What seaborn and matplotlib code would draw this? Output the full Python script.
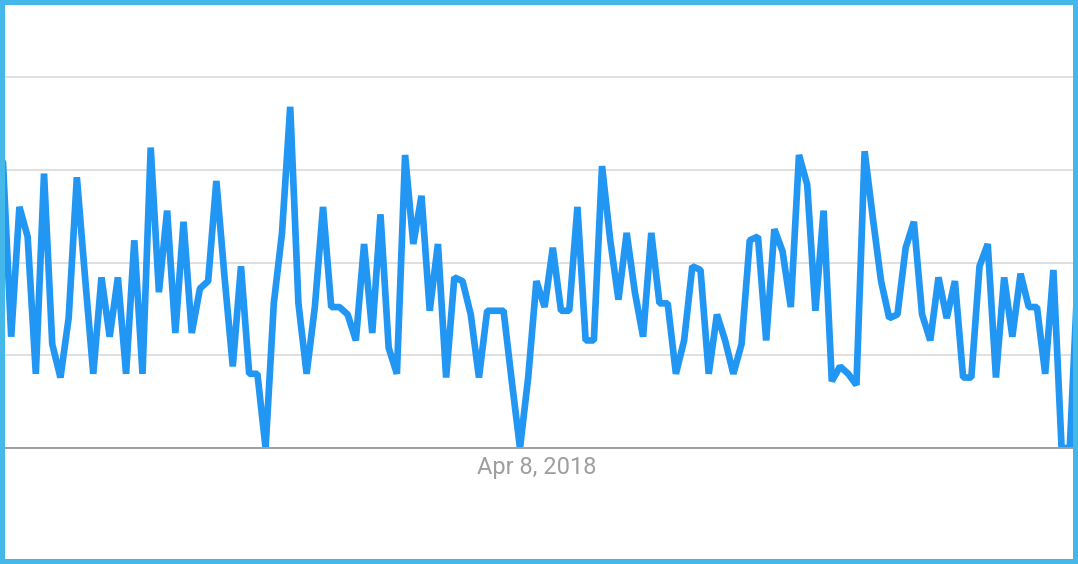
import numpy as np
import pandas as pd
import matplotlib.pyplot as plt
import seaborn as sns
from matplotlib.patches import Rectangle

# weekly interest values (0-100 scale)
interest = [77, 30, 65, 57, 20, 74, 28, 19, 35, 73,
            46, 20, 46, 30, 46, 20, 56, 20, 81, 42,
            64, 31, 61, 31, 43, 45, 72, 46, 22, 49,
            20, 20, 0, 39, 58, 92, 39, 20, 38, 65,
            38, 38, 36, 29, 55, 31, 63, 27, 20, 79,
            55, 68, 37, 55, 19, 46, 45, 36, 19, 37,
            37, 37, 18, 0, 19, 45, 38, 54, 37, 37,
            65, 29, 29, 76, 56, 40, 58, 42, 30, 58,
            39, 39, 20, 29, 49, 48, 20, 36, 29, 20,
            28, 56, 57, 29, 59, 53, 38, 79, 71, 37,
            64, 18, 22, 20, 17, 80, 62, 45, 35, 36,
            54, 61, 36, 29, 46, 35, 45, 19, 19, 49,
            55, 19, 46, 30, 47, 38, 38, 20, 48, 0,
            0, 48]

label_date = pd.Timestamp("2018-04-08")
tick_labels = ["Apr 8, 2018"]
dates = pd.date_range(label_date - pd.Timedelta(weeks=65), periods=len(interest), freq="7D")

df = pd.DataFrame({"date": dates, "interest": interest})

sns.set_style("white")
plt.rcParams["font.family"] = ["Roboto", "DejaVu Sans"]

fig = plt.figure(figsize=(10.78, 5.64), dpi=100)
ax = fig.add_axes([3 / 1078, 116 / 564, 1075 / 1078, 408 / 564])

sns.lineplot(data=df, x="date", y="interest", ax=ax, color="#2196f3",
             linewidth=4.8, solid_joinstyle="bevel")

ax.set_xlim(dates[0], dates[-1])
ax.set_ylim(0, 110)
ax.set_yticks([0, 25, 50, 75, 100])
ax.set_yticklabels([])
ax.yaxis.grid(True, color="#e0e0e0", linewidth=1.4)
ax.xaxis.grid(False)
ax.set_xticks([label_date])
ax.set_xticklabels(tick_labels, color="#9e9e9e", fontsize=17)
ax.tick_params(axis="both", length=0)
ax.tick_params(axis="x", pad=6)
ax.set_xlabel("")
ax.set_ylabel("")

for side in ["left", "right", "top"]:
    ax.spines[side].set_visible(False)
ax.spines["bottom"].set_color("#9e9e9e")
ax.spines["bottom"].set_linewidth(1.4)

# light blue frame round the whole picture
fig.add_artist(Rectangle((0, 0), 1, 1, transform=fig.transFigure, fill=False,
                         edgecolor="#45b8ea", linewidth=7.2, zorder=10))

fig.savefig("out.png", dpi=100)
